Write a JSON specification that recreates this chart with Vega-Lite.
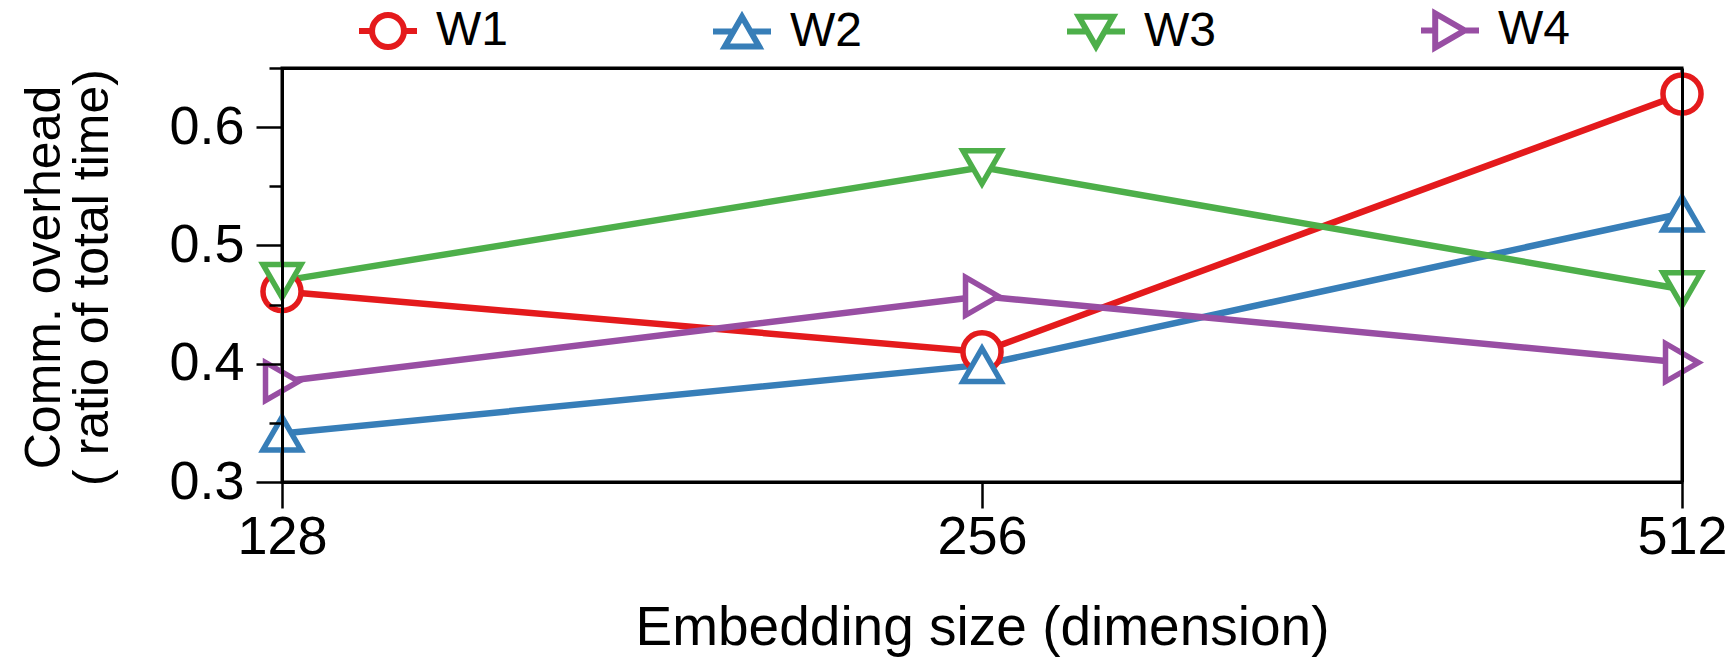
{
  "$schema": "https://vega.github.io/schema/vega-lite/v6.json",
  "width": 1400,
  "height": 414,
  "autosize": {"type": "none"},
  "padding": {"left": 282, "top": 68, "right": 52, "bottom": 176},
  "background": "white",
  "config": {
    "font": "Liberation Sans",
    "view": {"stroke": "black", "strokeWidth": 3},
    "axis": {"grid": false, "domainColor": "black", "tickColor": "black", "labelColor": "black", "titleColor": "black", "titleFontWeight": "normal", "labelFont": "Liberation Sans", "titleFont": "Liberation Sans"},
    "legend": {
      "orient": "none", "legendX": 74, "legendY": -70,
      "direction": "horizontal", "columns": 4, "columnPadding": 193,
      "padding": 0,
      "labelFontSize": 48, "labelOffset": 16, "labelColor": "black", "labelFont": "Liberation Sans",
      "symbolSize": 3364, "symbolStrokeWidth": 6, "symbolFillColor": "white", "symbolOpacity": 1
    }
  },
  "data": {
    "values": [
      {"dim": 128, "series": "W1", "value": 0.461},
      {"dim": 256, "series": "W1", "value": 0.410},
      {"dim": 512, "series": "W1", "value": 0.628},
      {"dim": 128, "series": "W2", "value": 0.341},
      {"dim": 256, "series": "W2", "value": 0.399},
      {"dim": 512, "series": "W2", "value": 0.527},
      {"dim": 128, "series": "W3", "value": 0.470},
      {"dim": 256, "series": "W3", "value": 0.566},
      {"dim": 512, "series": "W3", "value": 0.463},
      {"dim": 128, "series": "W4", "value": 0.385},
      {"dim": 256, "series": "W4", "value": 0.457},
      {"dim": 512, "series": "W4", "value": 0.401}
    ]
  },
  "layer": [
    {
      "mark": {"type": "line", "strokeWidth": 6.5},
      "encoding": {
        "x": {
          "field": "dim", "type": "quantitative",
          "scale": {"type": "log", "base": 2, "domain": [128, 512], "nice": false},
          "axis": {
            "orient": "bottom", "values": [128, 256, 512], "format": "d",
            "tickSize": 26, "tickWidth": 2.5, "domainWidth": 3,
            "labelFontSize": 54, "labelPadding": 2, "labelFlush": false, "labelOverlap": false,
            "title": "Embedding size (dimension)", "titleFontSize": 55,
            "titleY": 162, "titleBaseline": "alphabetic", "zindex": 1
          }
        },
        "y": {
          "field": "value", "type": "quantitative",
          "scale": {"domain": [0.3, 0.65], "nice": false, "zero": false},
          "axis": {
            "orient": "left",
            "values": [0.3, 0.35, 0.4, 0.45, 0.5, 0.55, 0.6, 0.65],
            "labelExpr": "abs(datum.value*10 - round(datum.value*10)) < 0.001 ? format(datum.value, '.1f') : ''",
            "tickSize": {"condition": {"test": "abs(datum.value*10 - round(datum.value*10)) < 0.001", "value": 26}, "value": 13},
            "tickWidth": 2.5, "domainWidth": 3,
            "labelFontSize": 54, "labelPadding": 12, "labelFlush": false, "labelOverlap": false,
            "title": ["Comm. overhead", "( ratio of total time)"],
            "titleFontSize": 50, "titleLineHeight": 48,
            "titleAngle": 270, "titleX": -238, "titleY": 209, "titleBaseline": "middle", "titleAlign": "center",
            "zindex": 1
          }
        },
        "color": {
          "field": "series", "type": "nominal",
          "scale": {"domain": ["W1", "W2", "W3", "W4"], "range": ["#e41a1c", "#377eb8", "#4daf4a", "#984ea3"]},
          "legend": null
        }
      }
    },
    {
      "mark": {"type": "point", "fill": "white", "fillOpacity": 1, "opacity": 1, "strokeWidth": 5.5, "size": 1450},
      "encoding": {
        "x": {
          "field": "dim", "type": "quantitative",
          "scale": {"type": "log", "base": 2, "domain": [128, 512], "nice": false},
          "axis": {"orient": "top", "ticks": false, "labels": false, "domainWidth": 3, "title": null, "zindex": 1}
        },
        "y": {
          "field": "value", "type": "quantitative",
          "scale": {"domain": [0.3, 0.65], "nice": false, "zero": false},
          "axis": {"orient": "right", "ticks": false, "labels": false, "domainWidth": 3, "title": null, "zindex": 1}
        },
        "color": {
          "field": "series", "type": "nominal",
          "scale": {"domain": ["W1", "W2", "W3", "W4"], "range": ["#e41a1c", "#377eb8", "#4daf4a", "#984ea3"]},
          "legend": null
        },
        "shape": {
          "field": "series", "type": "nominal",
          "scale": {"domain": ["W1", "W2", "W3", "W4"], "range": ["circle", "triangle-up", "triangle-down", "triangle-right"]},
          "legend": null
        }
      }
    },
    {
      "mark": {"type": "point", "fill": "white", "opacity": 0, "strokeWidth": 6, "size": 3364},
      "encoding": {
        "x": {
          "field": "dim", "type": "quantitative",
          "scale": {"type": "log", "base": 2, "domain": [128, 512], "nice": false},
          "axis": null
        },
        "y": {
          "field": "value", "type": "quantitative",
          "scale": {"domain": [0.3, 0.65], "nice": false, "zero": false},
          "axis": null
        },
        "color": {
          "field": "series", "type": "nominal",
          "scale": {"domain": ["W1", "W2", "W3", "W4"], "range": ["#e41a1c", "#377eb8", "#4daf4a", "#984ea3"]},
          "legend": {"title": null}
        },
        "shape": {
          "field": "series", "type": "nominal",
          "scale": {"domain": ["W1", "W2", "W3", "W4"], "range": [
            "M-1,0H-0.55M0.55,0H1M-0.55,0A0.55,0.55 0 1,0 0.55,0A0.55,0.55 0 1,0 -0.55,0",
            "M-1,0H-0.295M0.295,0H1M0,-0.51L0.59,0.51L-0.59,0.51Z",
            "M-1,0H-0.295M0.295,0H1M0,0.51L0.59,-0.51L-0.59,-0.51Z",
            "M-1,0H-0.51M0.51,0H1M0.51,0L-0.51,0.59L-0.51,-0.59Z"
          ]},
          "legend": {"title": null}
        }
      }
    }
  ],
  "resolve": {
    "axis": {"x": "independent", "y": "independent"},
    "scale": {"color": "independent", "shape": "independent"}
  }
}
